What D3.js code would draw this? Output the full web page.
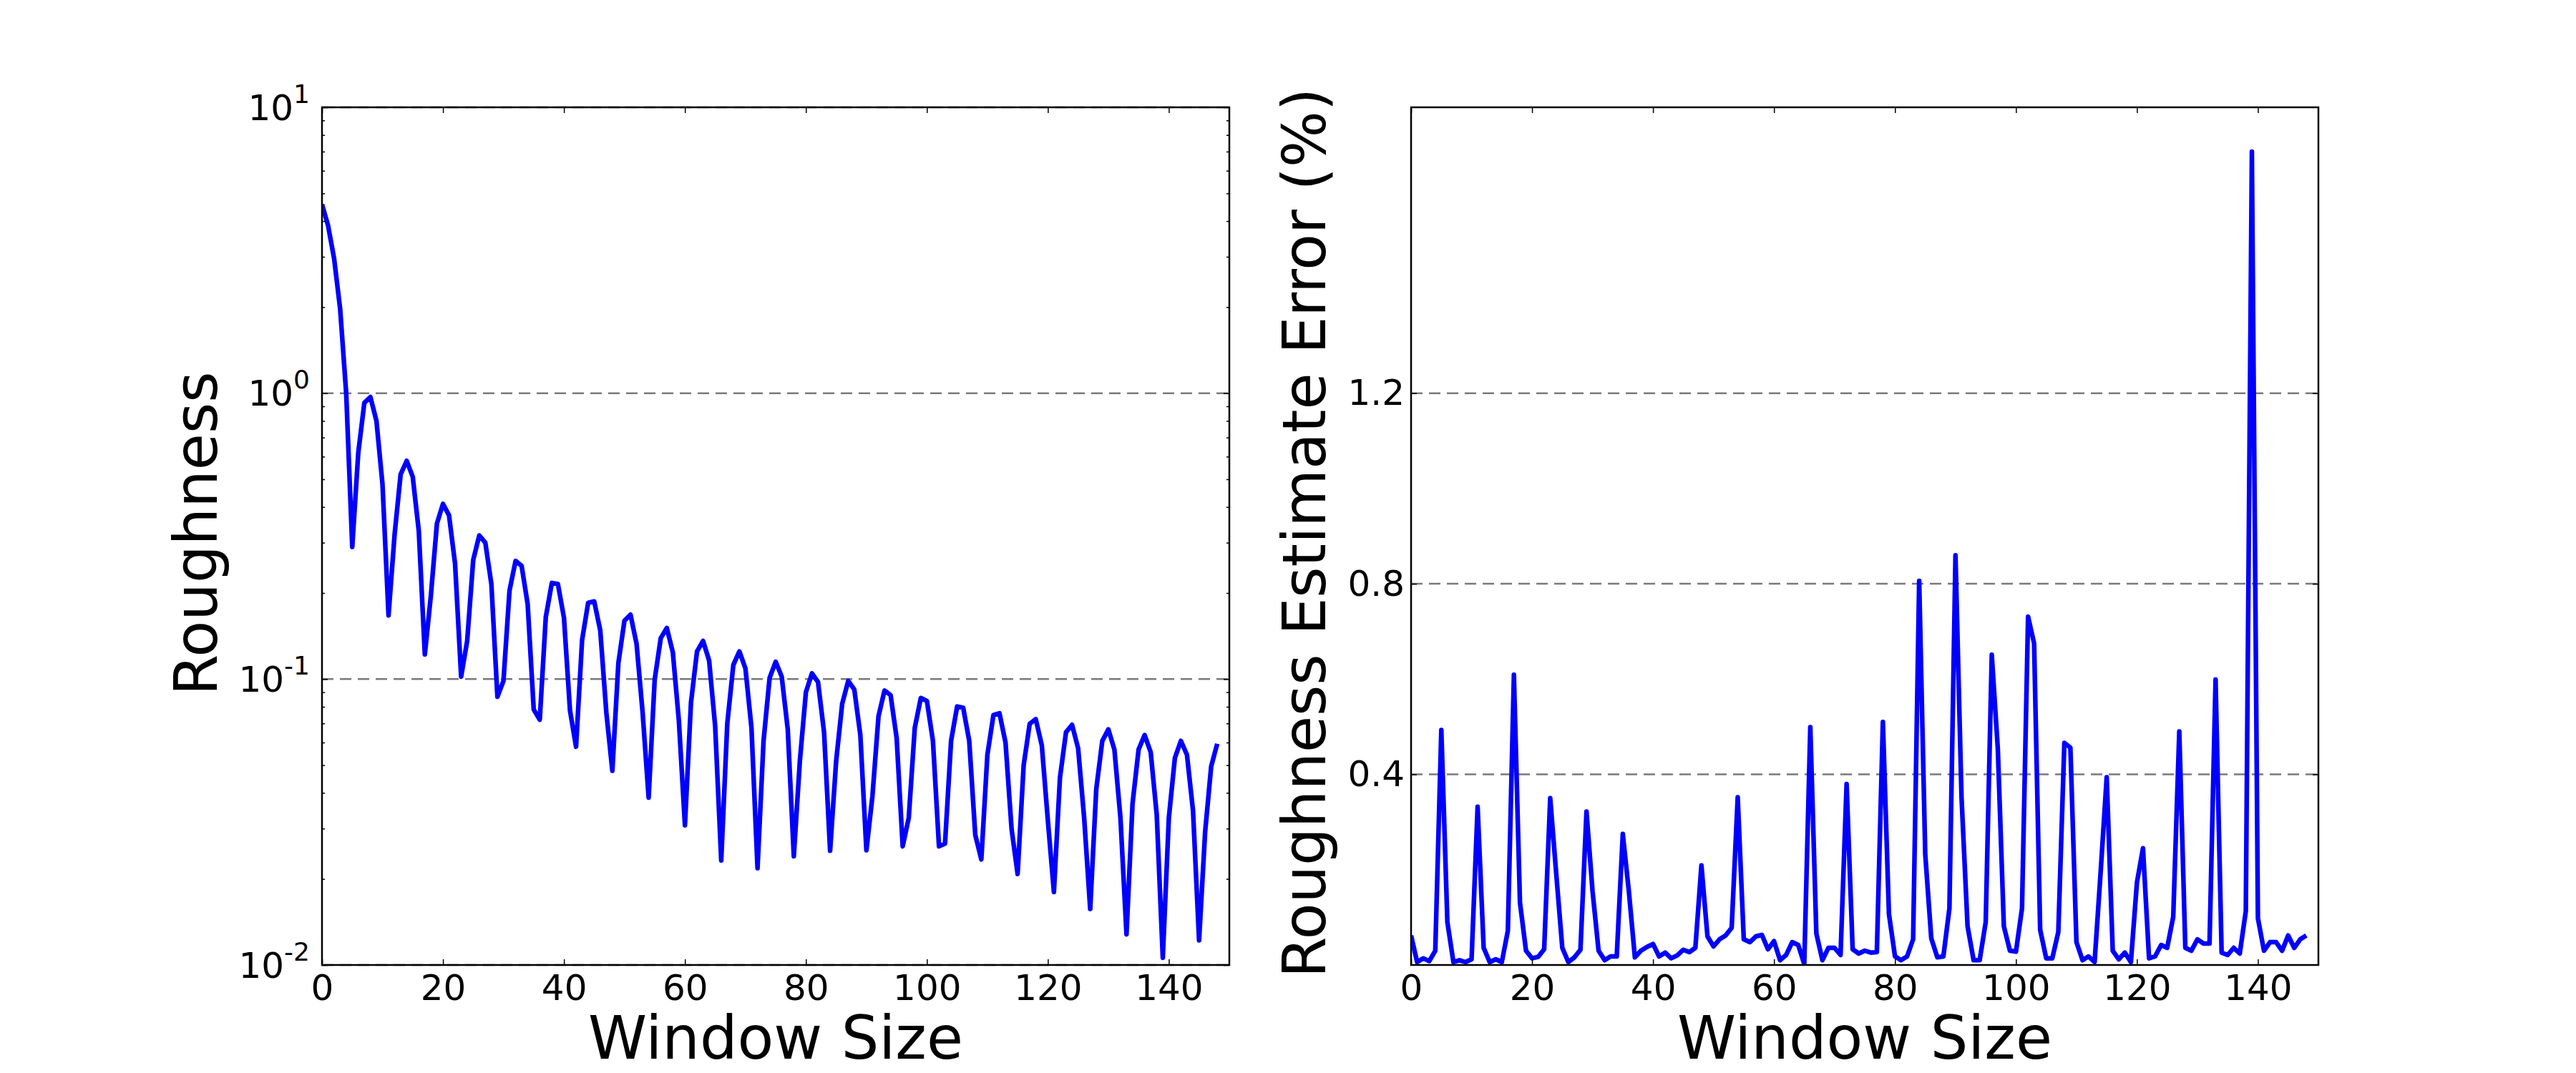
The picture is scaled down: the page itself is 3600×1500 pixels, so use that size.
<!DOCTYPE html>
<html>
<head>
    <meta charset="utf-8">
    <title>roughness_window_size</title>
    <script src="https://d3js.org/d3.v7.min.js"></script>
    <style>
        body { margin: 0; background: #fff; }
        text { font-family: "DejaVu Sans", sans-serif; fill: #000; }
    </style>
</head>
<body>
    <svg id="chart" width="3600" height="1500"></svg>
    <script>
        // Roughness for each window size (left panel, log scale)
        var roughness = [
            4.58, 3.86, 2.96, 1.97, 1.0, 0.29, 0.62, 0.925, 0.97, 0.80,
            0.48, 0.167, 0.32, 0.52, 0.58, 0.51, 0.33, 0.122, 0.196, 0.35,
            0.41, 0.374, 0.253, 0.102, 0.136, 0.261, 0.318, 0.30, 0.215, 0.0867,
            0.0986, 0.204, 0.259, 0.249, 0.183, 0.0783, 0.0721, 0.165, 0.217, 0.215,
            0.164, 0.0776, 0.058, 0.137, 0.185, 0.187, 0.148, 0.0766, 0.0478, 0.114,
            0.16, 0.168, 0.133, 0.0766, 0.0385, 0.0996, 0.139, 0.151, 0.124, 0.0714,
            0.0308, 0.0828, 0.125, 0.136, 0.116, 0.0683, 0.0232, 0.0698, 0.112, 0.125,
            0.109, 0.0676, 0.0218, 0.0608, 0.101, 0.115, 0.102, 0.0667, 0.024, 0.0517,
            0.090, 0.1047, 0.0977, 0.0652, 0.0251, 0.0517, 0.082, 0.0986, 0.092, 0.0637,
            0.0252, 0.039, 0.0741, 0.0912, 0.0879, 0.0622, 0.026, 0.0327, 0.0676, 0.0859,
            0.0839, 0.0608, 0.026, 0.0266, 0.0608, 0.0802, 0.0794, 0.0608, 0.0285, 0.0234,
            0.0543, 0.0748, 0.0759, 0.060, 0.0299, 0.0208, 0.050, 0.0698, 0.0724, 0.0586,
            0.032, 0.018, 0.0452, 0.0652, 0.0692, 0.0573, 0.0327, 0.0157, 0.0412, 0.0608,
            0.0667, 0.0567, 0.0327, 0.0128, 0.0367, 0.0567, 0.0637, 0.0555, 0.0335, 0.0106,
            0.0327, 0.053, 0.0608, 0.0543, 0.0346, 0.0122, 0.0292, 0.0495, 0.0594
        ];

        // Roughness estimate error in % (right panel)
        var roughnessError = [
            0.062, 0.006, 0.014, 0.008, 0.030, 0.493, 0.090, 0.006, 0.010, 0.006,
            0.012, 0.332, 0.036, 0.006, 0.012, 0.006, 0.072, 0.609, 0.131, 0.030,
            0.014, 0.017, 0.033, 0.350, 0.191, 0.036, 0.006, 0.016, 0.032, 0.322,
            0.155, 0.030, 0.010, 0.018, 0.018, 0.275, 0.155, 0.016, 0.030, 0.038,
            0.044, 0.018, 0.026, 0.014, 0.020, 0.032, 0.027, 0.036, 0.209, 0.060,
            0.039, 0.054, 0.062, 0.078, 0.352, 0.054, 0.048, 0.060, 0.063, 0.033,
            0.050, 0.010, 0.021, 0.048, 0.042, 0.002, 0.499, 0.066, 0.010, 0.036,
            0.036, 0.021, 0.380, 0.033, 0.024, 0.030, 0.026, 0.027, 0.510, 0.107,
            0.018, 0.010, 0.018, 0.054, 0.806, 0.233, 0.056, 0.016, 0.018, 0.119,
            0.860, 0.352, 0.081, 0.010, 0.010, 0.090, 0.651, 0.454, 0.081, 0.030,
            0.028, 0.119, 0.731, 0.675, 0.074, 0.014, 0.014, 0.069, 0.466, 0.456,
            0.048, 0.010, 0.018, 0.006, 0.195, 0.394, 0.030, 0.012, 0.026, 0.006,
            0.173, 0.245, 0.014, 0.018, 0.042, 0.036, 0.101, 0.490, 0.036, 0.030,
            0.054, 0.045, 0.045, 0.599, 0.026, 0.021, 0.036, 0.024, 0.113, 1.707,
            0.098, 0.030, 0.048, 0.048, 0.030, 0.062, 0.036, 0.054, 0.062
        ];

        // Tick values / labels
        var xTicks = [0, 20, 40, 60, 80, 100, 120, 140];
        var logTicks = [0.01, 0.1, 1, 10];
        var logTickExp = ["-2", "-1", "0", "1"];
        var errTicks = [0.4, 0.8, 1.2];
        var errTickLabels = ["0.4", "0.8", "1.2"];

        // Layout (matches a 3600x1500 matplotlib figure)
        var plotTop = 150, plotBottom = 1349;
        var leftPanel = { x0: 450, x1: 1718 };
        var rightPanel = { x0: 1972, x1: 3240 };

        var svg = d3.select("#chart");
        svg.append("rect").attr("width", 3600).attr("height", 1500).attr("fill", "#fff");

        // Minor tick positions for the log axis
        var minorTicks = [];
        [0.01, 0.1, 1].forEach(function(dec) {
            for (var m = 2; m <= 9; m++) minorTicks.push(m * dec);
        });

        function styleAxis(g) {
            g.select(".domain").remove();
            g.selectAll(".tick line").attr("stroke", "#000").attr("stroke-width", 1.5);
            g.attr("font-family", "DejaVu Sans, sans-serif").attr("font-size", 50);
        }

        function drawPanel(panel, y, values, gridTicks, yLeftAxis, yRightAxis, clipId) {
            var x = d3.scaleLinear().domain([0, 150]).range([panel.x0, panel.x1]);
            var g = svg.append("g");

            g.append("clipPath").attr("id", clipId)
                .append("rect")
                .attr("x", panel.x0).attr("y", plotTop)
                .attr("width", panel.x1 - panel.x0).attr("height", plotBottom - plotTop);

            // dashed horizontal grid
            g.selectAll(".grid")
                .data(gridTicks)
                .enter()
                .append("line")
                .attr("x1", panel.x0).attr("x2", panel.x1)
                .attr("y1", function(d) { return y(d); })
                .attr("y2", function(d) { return y(d); })
                .attr("stroke", "#7a7a7a")
                .attr("stroke-width", 2.5)
                .attr("stroke-dasharray", "16,9");

            // data line
            var line = d3.line()
                .x(function(d, i) { return x(i); })
                .y(function(d) { return y(d); });

            g.append("path")
                .datum(values)
                .attr("clip-path", "url(#" + clipId + ")")
                .attr("d", line)
                .attr("fill", "none")
                .attr("stroke", "#0000ff")
                .attr("stroke-width", 6.5)
                .attr("stroke-linejoin", "round");

            // x axes (bottom with labels, top ticks only)
            var xb = g.append("g")
                .attr("transform", "translate(0," + plotBottom + ")")
                .call(d3.axisBottom(x).tickValues(xTicks).tickSizeInner(-8).tickSizeOuter(0).tickPadding(13));
            styleAxis(xb);

            var xt = g.append("g")
                .attr("transform", "translate(0," + plotTop + ")")
                .call(d3.axisTop(x).tickValues(xTicks).tickSizeInner(-8).tickSizeOuter(0).tickFormat(""));
            styleAxis(xt);

            yLeftAxis(g, x);
            yRightAxis(g, x);

            // frame
            g.append("rect")
                .attr("x", panel.x0).attr("y", plotTop)
                .attr("width", panel.x1 - panel.x0).attr("height", plotBottom - plotTop)
                .attr("fill", "none")
                .attr("stroke", "#000")
                .attr("stroke-width", 2.5);

            // x label
            g.append("text")
                .attr("x", (panel.x0 + panel.x1) / 2)
                .attr("y", 1480)
                .attr("text-anchor", "middle")
                .attr("font-size", 83)
                .text("Window Size");

            return g;
        }

        // ---- Left panel: roughness on log scale ----
        var yLog = d3.scaleLog().domain([0.01, 10]).range([plotBottom, plotTop]);

        drawPanel(leftPanel, yLog, roughness, logTicks,
            function(g) {
                var ax = g.append("g")
                    .attr("transform", "translate(" + leftPanel.x0 + ",0)")
                    .call(d3.axisLeft(yLog).tickValues(logTicks).tickSizeInner(-8).tickSizeOuter(0)
                        .tickPadding(17).tickFormat(""));
                styleAxis(ax);
                ax.selectAll(".tick text").each(function(d, i) {
                    var t = d3.select(this).attr("dy", "17px");
                    t.append("tspan").text("10");
                    t.append("tspan").attr("dy", -24).attr("font-size", 36).text(logTickExp[i]);
                });
                var axm = g.append("g")
                    .attr("transform", "translate(" + leftPanel.x0 + ",0)")
                    .call(d3.axisLeft(yLog).tickValues(minorTicks).tickSizeInner(-4).tickSizeOuter(0).tickFormat(""));
                styleAxis(axm);
            },
            function(g) {
                var ax = g.append("g")
                    .attr("transform", "translate(" + leftPanel.x1 + ",0)")
                    .call(d3.axisRight(yLog).tickValues(logTicks).tickSizeInner(-8).tickSizeOuter(0).tickFormat(""));
                styleAxis(ax);
                var axm = g.append("g")
                    .attr("transform", "translate(" + leftPanel.x1 + ",0)")
                    .call(d3.axisRight(yLog).tickValues(minorTicks).tickSizeInner(-4).tickSizeOuter(0).tickFormat(""));
                styleAxis(axm);
            },
            "clipLeft");

        svg.append("text")
            .attr("transform", "translate(303,746) rotate(-90)")
            .attr("text-anchor", "middle")
            .attr("font-size", 83)
            .text("Roughness");

        // ---- Right panel: estimate error ----
        var yErr = d3.scaleLinear().domain([0, 1.8]).range([plotBottom, plotTop]);

        drawPanel(rightPanel, yErr, roughnessError, errTicks,
            function(g) {
                var ax = g.append("g")
                    .attr("transform", "translate(" + rightPanel.x0 + ",0)")
                    .call(d3.axisLeft(yErr).tickValues(errTicks).tickSizeInner(-8).tickSizeOuter(0)
                        .tickPadding(9).tickFormat(function(d, i) { return errTickLabels[i]; }));
                styleAxis(ax);
            },
            function(g) {
                var ax = g.append("g")
                    .attr("transform", "translate(" + rightPanel.x1 + ",0)")
                    .call(d3.axisRight(yErr).tickValues(errTicks).tickSizeInner(-8).tickSizeOuter(0).tickFormat(""));
                styleAxis(ax);
            },
            "clipRight");

        svg.append("text")
            .attr("transform", "translate(1852,745) rotate(-90)")
            .attr("text-anchor", "middle")
            .attr("font-size", 83)
            .text("Roughness Estimate Error (%)");
    </script>
</body>
</html>
